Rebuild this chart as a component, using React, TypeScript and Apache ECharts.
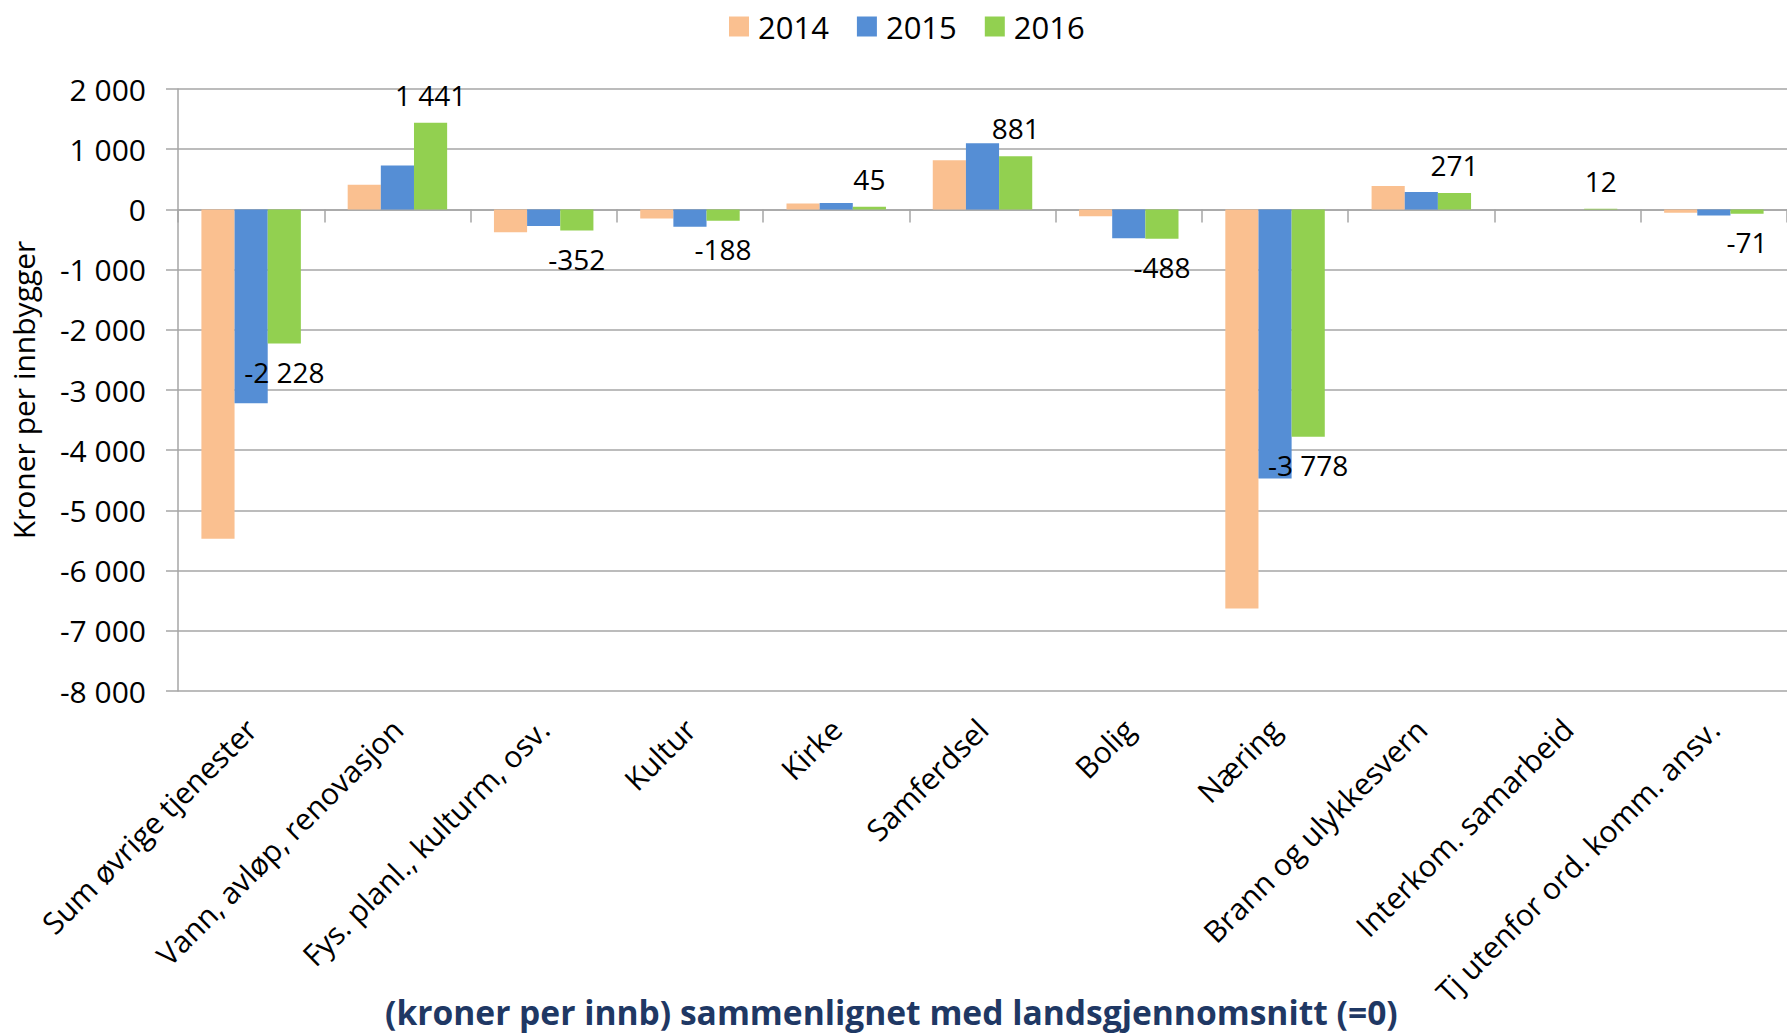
import React, { useEffect, useRef } from "react";
import * as echarts from "echarts";

const categories = [
  "Sum øvrige tjenester",
  "Vann, avløp, renovasjon",
  "Fys. planl., kulturm, osv.",
  "Kultur",
  "Kirke",
  "Samferdsel",
  "Bolig",
  "Næring",
  "Brann og ulykkesvern",
  "Interkom. samarbeid",
  "Tj utenfor ord. komm. ansv.",
];
const seriesNames = ["2014", "2015", "2016"];
const v2014 = [-5470, 410, -380, -150, 100, 815, -115, -6630, 390, 0, -55];
const v2015 = [-3220, 730, -275, -290, 105, 1100, -480, -4470, 290, 0, -100];
const v2016 = [-2228, 1441, -352, -188, 45, 881, -488, -3778, 271, 12, -71];
const colors = ["#FAC090", "#558ED5", "#92D050"];
const yMin = -8000;
const yMax = 2000;
const yStep = 1000;
const titleText = "(kroner per innb) sammenlignet med landsgjennomsnitt (=0)";
const yName = "Kroner per innbygger";

const fmt = (v: number) => {
  const s = Math.abs(Math.round(v)).toString().replace(/\B(?=(\d{3})+(?!\d))/g, " ");
  return (v < 0 ? "-" : "") + s;
};

const FONT = "'Open Sans', sans-serif";

export default function App() {
  const ref = useRef<HTMLDivElement>(null);
  useEffect(() => {
    document.body.style.margin = "0";
    if (!ref.current) return;
    const chart = echarts.init(ref.current, undefined, { renderer: "svg" });
    chart.setOption({
      animation: false,
      textStyle: { fontFamily: FONT },
      color: colors,
      legend: {
        top: 6,
        left: 724,
        icon: "rect",
        itemWidth: 20,
        itemHeight: 20,
        itemGap: 28,
        textStyle: { fontSize: 31, color: "#000", fontFamily: FONT, padding: [0, 0, 0, 4] },
        data: seriesNames,
      },
      title: {
        text: titleText,
        left: 380,
        bottom: 0,
        textStyle: { fontSize: 33.6, fontWeight: "bold", color: "#1F3864", fontFamily: FONT },
      },
      grid: { left: 177, right: 0, top: 89, bottom: 343, containLabel: false },
      xAxis: [
        {
          type: "category",
          data: categories,
          position: "bottom",
          axisLine: { onZero: true, lineStyle: { color: "#A6A6A6", width: 1.5 } },
          axisTick: { show: true, interval: 0, length: 13, lineStyle: { color: "#A6A6A6", width: 1.5 } },
          axisLabel: { show: false },
          splitLine: { show: false },
        },
        {
          type: "category",
          data: categories,
          position: "bottom",
          axisLine: { show: false, onZero: false },
          axisTick: { show: false },
          axisLabel: {
            show: true,
            interval: 0,
            rotate: 45,
            margin: 33,
            fontSize: 30,
            color: "#000",
            fontFamily: FONT,
          },
        },
      ],
      yAxis: {
        type: "value",
        min: yMin,
        max: yMax,
        interval: yStep,
        name: yName,
        nameLocation: "middle",
        nameGap: 140,
        nameTextStyle: { fontSize: 30, color: "#000", fontFamily: FONT },
        axisLine: { show: true, lineStyle: { color: "#A6A6A6", width: 1.5 } },
        axisTick: { show: true, length: 12, lineStyle: { color: "#A6A6A6", width: 1.5 } },
        axisLabel: { fontSize: 30, color: "#000", margin: 32, formatter: (v: number) => fmt(v), fontFamily: FONT },
        splitLine: { show: true, lineStyle: { color: "#A6A6A6", width: 1.5 } },
      },
      series: [
        { name: seriesNames[0], type: "bar", data: v2014, barGap: "0%", barCategoryGap: "32%" },
        { name: seriesNames[1], type: "bar", data: v2015, barGap: "0%", barCategoryGap: "32%" },
        {
          name: seriesNames[2],
          type: "bar",
          barGap: "0%",
          barCategoryGap: "32%",
          data: v2016.map((v) => ({
            value: v,
            label: { position: v < 0 ? "bottom" : "top" },
          })),
          label: {
            show: true,
            distance: 14,
            fontSize: 28,
            color: "#000",
            fontFamily: FONT,
            formatter: (p: any) => fmt(p.value),
          },
        },
      ],
    });
    return () => chart.dispose();
  }, []);
  return <div ref={ref} style={{ width: 1787, height: 1034 }} />;
}
